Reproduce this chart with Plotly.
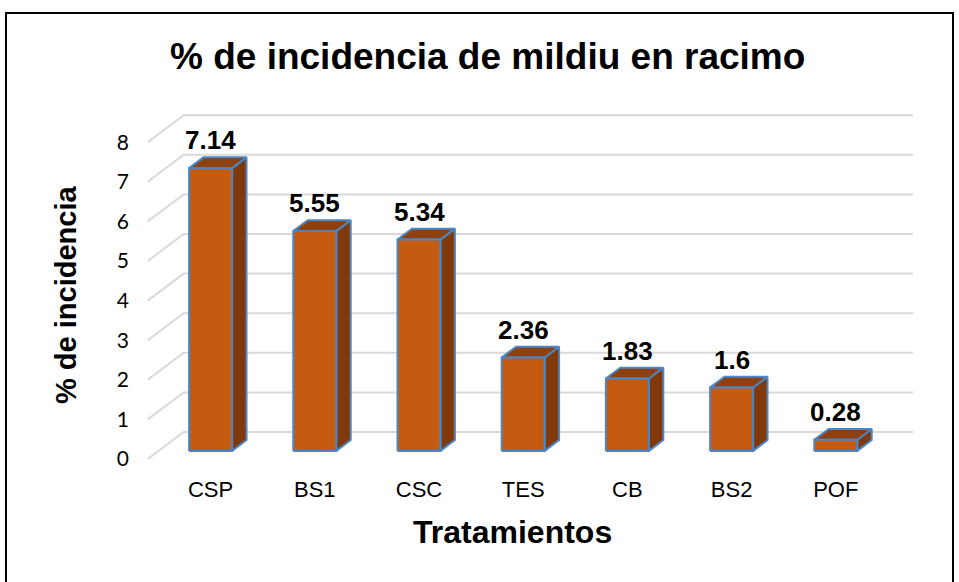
import plotly.graph_objects as go

# ---------------- data ----------------
categories = ["CSP", "BS1", "CSC", "TES", "CB", "BS2", "POF"]
values = [7.14, 5.55, 5.34, 2.36, 1.83, 1.6, 0.28]
y_ticks = [0, 1, 2, 3, 4, 5, 6, 7, 8]

title_text = "% de incidencia de mildiu en racimo"
x_title = "Tratamientos"
y_title = "% de incidencia"

# ---------------- layout geometry (pixels) ----------------
W_FIG, H_FIG = 959, 582
L, R, T, B = 130, 29, 100, 108
PW = W_FIG - L - R
PH = H_FIG - T - B
PX_CAT = 104.2          # pixels per category
PX_VAL = 39.6           # pixels per unit value
FLOOR_LEFT_PX = 147.7   # left edge of floor (front)
ZERO_PX = 459           # y pixel of value 0 at the front
DEPTH_PX = (36, 27)     # depth offset in pixels (right, up)

xa = -0.5 - (FLOOR_LEFT_PX - L) / PX_CAT
xb = xa + PW / PX_CAT
y_bot = (ZERO_PX - (T + PH)) / PX_VAL
y_top = (ZERO_PX - T) / PX_VAL
DX = DEPTH_PX[0] / PX_CAT
DY = DEPTH_PX[1] / PX_VAL
BAR_FRONT, BAR_BACK = 0.3, 0.7
HALF_W = 43 / 2 / PX_CAT

FRONT = "#C55A11"
SIDE = "#7F390B"
TOP = "#8E400E"
EDGE = "#4A86C5"
GRID = "#D9D9D9"

fig = go.Figure()

n = len(categories)
x0, x1 = -0.5, n - 0.5

# back wall gridlines and side-wall diagonals
for v in y_ticks:
    fig.add_trace(go.Scatter(
        x=[x0, x0 + DX, x1 + DX], y=[v, v + DY, v + DY],
        mode="lines", line=dict(color=GRID, width=2),
        hoverinfo="skip", showlegend=False))

# 3D bars
for i, (c, v) in enumerate(zip(categories, values)):
    fx = i + BAR_FRONT * DX
    fy = BAR_FRONT * DY
    bx = i + BAR_BACK * DX
    by = BAR_BACK * DY
    l_f, r_f = fx - HALF_W, fx + HALF_W
    l_b, r_b = bx - HALF_W, bx + HALF_W
    # side face
    fig.add_trace(go.Scatter(
        x=[r_f, r_b, r_b, r_f, r_f], y=[fy, by, by + v, fy + v, fy],
        mode="lines", fill="toself", fillcolor=SIDE,
        line=dict(color=EDGE, width=2), hoverinfo="skip", showlegend=False))
    # top face
    fig.add_trace(go.Scatter(
        x=[l_f, l_b, r_b, r_f, l_f], y=[fy + v, by + v, by + v, fy + v, fy + v],
        mode="lines", fill="toself", fillcolor=TOP,
        line=dict(color=EDGE, width=2), hoverinfo="skip", showlegend=False))
    # front face
    fig.add_trace(go.Scatter(
        x=[l_f, r_f, r_f, l_f, l_f], y=[fy, fy, fy + v, fy + v, fy],
        mode="lines", fill="toself", fillcolor=FRONT,
        line=dict(color=EDGE, width=2), hoverinfo="skip", showlegend=False))
    # value label
    fig.add_annotation(
        x=fx, y=by + v, text=f"<b>{v:g}</b>", showarrow=False,
        xanchor="center", yanchor="bottom", yshift=0,
        font=dict(family="Liberation Sans, Arial", size=26, color="#000000"))

def paper_x(px):
    return (px - L) / PW

def paper_y(py):
    return 1 - (py - T) / PH

# titles
fig.add_annotation(
    x=paper_x(487), y=paper_y(57), xref="paper", yref="paper",
    text=f"<b>{title_text}</b>", showarrow=False,
    xanchor="center", yanchor="middle",
    font=dict(family="Liberation Sans, Arial", size=37, color="#000000"))
fig.add_annotation(
    x=paper_x(512), y=paper_y(532), xref="paper", yref="paper",
    text=f"<b>{x_title}</b>", showarrow=False,
    xanchor="center", yanchor="middle",
    font=dict(family="Liberation Sans, Arial", size=32, color="#000000"))
fig.add_annotation(
    x=paper_x(66), y=paper_y(295), xref="paper", yref="paper",
    text=f"<b>{y_title}</b>", showarrow=False, textangle=-90,
    xanchor="center", yanchor="middle",
    font=dict(family="Liberation Sans, Arial", size=29, color="#000000"))

# outer border
fig.add_shape(type="rect", xref="paper", yref="paper",
              x0=paper_x(6), x1=paper_x(953), y0=paper_y(600), y1=paper_y(13),
              line=dict(color="#000000", width=2), layer="above")

fig.update_layout(
    width=W_FIG, height=H_FIG,
    margin=dict(l=L, r=R, t=T, b=B),
    paper_bgcolor="white", plot_bgcolor="white",
    showlegend=False,
    xaxis=dict(range=[xa, xb], showgrid=False, zeroline=False, showline=False,
               tickmode="array",
               tickvals=[i + BAR_FRONT * DX for i in range(n)],
               ticktext=categories, ticks="",
               tickfont=dict(family="Liberation Sans, Arial", size=22, color="#000000")),
    yaxis=dict(range=[y_bot, y_top], showgrid=False, zeroline=False, showline=False,
               tickmode="array", tickvals=y_ticks,
               ticktext=[str(t) for t in y_ticks], ticks="",
               tickfont=dict(family="Lato, Open Sans", size=21, color="#000000")),
)

fig.write_html("out.html", config={"displayModeBar": False},
               post_script="document.body.style.margin='0';")
